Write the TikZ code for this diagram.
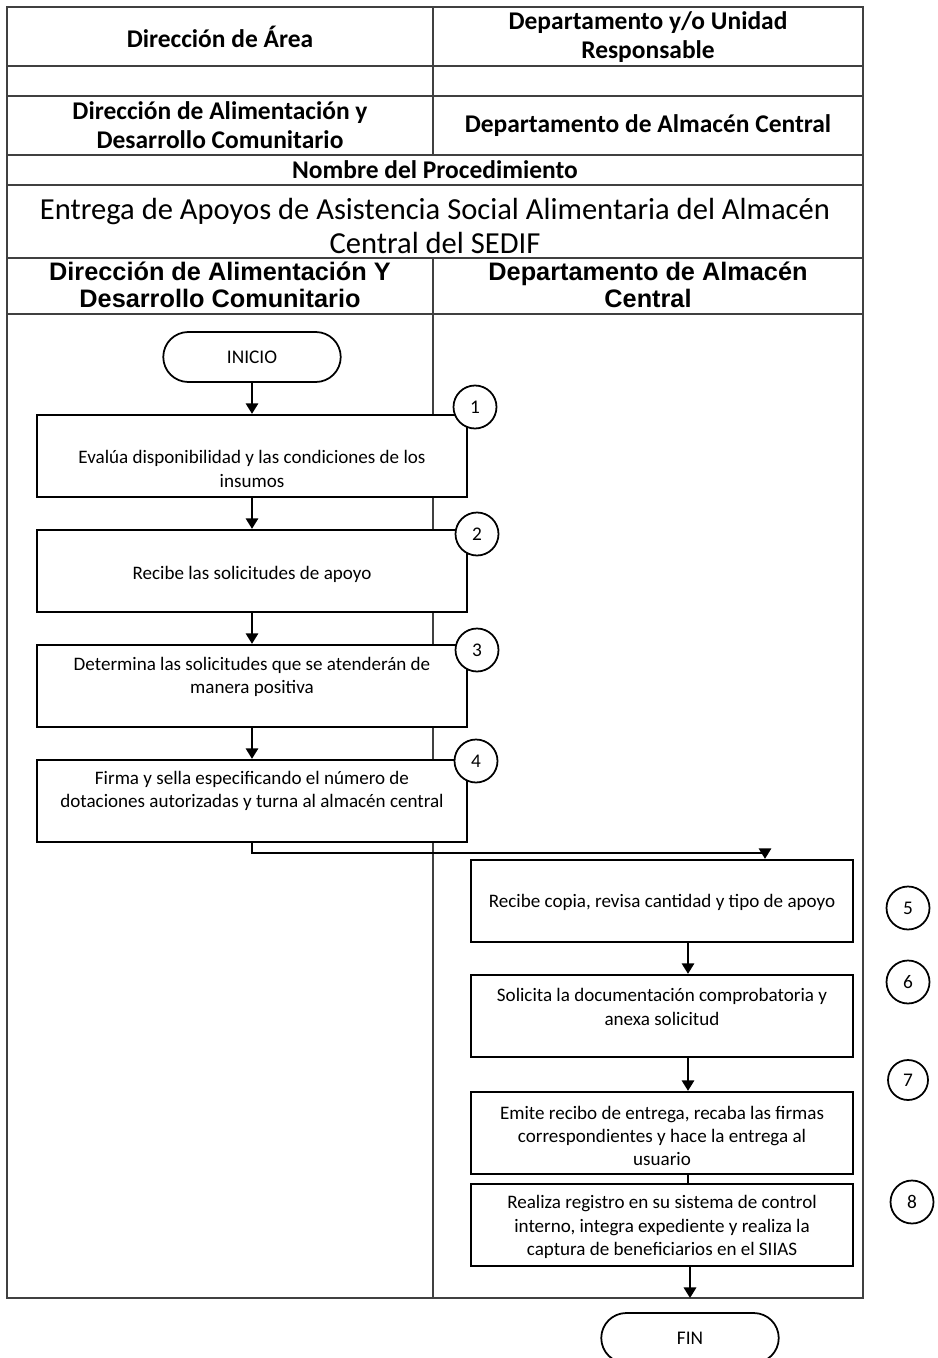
\documentclass[tikz,border=0pt]{standalone}
\usepackage{fontspec}
\setmainfont{Carlito}
\newfontfamily\lanefont{Liberation Sans}
\usetikzlibrary{arrows.meta}

\begin{document}
\begin{tikzpicture}[x=0.02cm,y=-0.02cm,
            grid/.style = {draw=black!75, line width=0.9pt},
            head/.style = {align=center, font=\bfseries\fontsize{14.5}{16.5}\selectfont},
            lane/.style = {align=center, font=\lanefont\bfseries\fontsize{14.4}{15.6}\selectfont},
            box/.style = {draw, line width=1.3pt, fill=white, minimum height=1.64cm},
            txt/.style = {align=center, font=\fontsize{10.85}{13.3}\selectfont},
            num/.style = {circle, draw, line width=1pt, fill=white, minimum size=0.86cm,
                        inner sep=0pt, font=\fontsize{11}{12}\selectfont},
            term/.style = {draw, line width=1pt, rounded corners=0.5cm, minimum width=3.55cm,
                        minimum height=1cm, font=\fontsize{11}{12}\selectfont},
            arr/.style = {line width=1.3pt, -{Triangle[width=7pt,length=6pt]}}]
            \clip (0,0) rectangle (937,1358);
            \useasboundingbox (0,0) rectangle (937,1358);
            % Table frame
            \draw [grid] (7,7) rectangle (863,1298);
            \draw [grid] (7,66) -- (863,66);
            \draw [grid] (7,96) -- (863,96);
            \draw [grid] (7,155) -- (863,155);
            \draw [grid] (7,185) -- (863,185);
            \draw [grid] (7,258) -- (863,258);
            \draw [grid] (7,314) -- (863,314);
            \draw [grid] (433,7) -- (433,155);
            \draw [grid] (433,258) -- (433,1298);
            % Header texts
            \node[head] (h1) at (220,37) {Dirección de Área};
            \node[head] (h2) at (648,37) {Departamento y/o Unidad\\Responsable};
            \node[head] (h3) at (220,125) {Dirección de Alimentación y\\Desarrollo Comunitario};
            \node[head] (h4) at (648,126) {Departamento de Almacén Central};
            \node[head] (h5) at (435,170) {Nombre del Procedimiento};
            \node[align=center, font=\fontsize{17.4}{19.6}\selectfont] (title) at (435,226)
                {Entrega de Apoyos de Asistencia Social Alimentaria del Almacén\\Central del SEDIF};
            % Lane headers
            \node[lane] (l1) at (220,285) {Dirección de Alimentación Y\\Desarrollo Comunitario};
            \node[lane] (l2) at (648,285) {Departamento de Almacén\\Central};
            % Start
            \node[term] (inicio) at (252,357) {INICIO};
            % Steps of the first lane
            \node[box, minimum width=8.6cm] (b1) at (252,456) {};
            \node[txt] (t1) at (252,469) {Evalúa disponibilidad y las condiciones de los\\insumos};
            \node[box, minimum width=8.6cm] (b2) at (252,571) {};
            \node[txt] (t2) at (252,574) {Recibe las solicitudes de apoyo};
            \node[box, minimum width=8.6cm] (b3) at (252,686) {};
            \node[txt] (t3) at (252,677) {Determina las solicitudes que se atenderán de\\manera positiva};
            \node[box, minimum width=8.6cm] (b4) at (252,801) {};
            \node[txt] (t4) at (252,791) {Firma y sella especificando el número de\\dotaciones autorizadas y turna al almacén central};
            % Steps of the second lane
            \node[box, minimum width=7.64cm] (b5) at (662,901) {};
            \node[txt] (t5) at (662,902) {Recibe copia, revisa cantidad y tipo de apoyo};
            \node[box, minimum width=7.64cm] (b6) at (662,1016) {};
            \node[txt] (t6) at (662,1007) {Solicita la documentación comprobatoria y\\anexa solicitud};
            \node[box, minimum width=7.64cm] (b7) at (662,1133) {};
            \node[txt] (t7) at (662,1136) {Emite recibo de entrega, recaba las firmas\\correspondientes y hace la entrega al\\usuario};
            \node[box, minimum width=7.64cm] (b8) at (662,1225) {};
            \node[txt] (t8) at (662,1227) {Realiza registro en su sistema de control\\interno, integra expediente y realiza la\\captura de beneficiarios en el SIIAS};
            % End
            \node[term] (fin) at (690,1338) {FIN};
            % Step numbers
            \node[num] (n1) at (475,407) {1};
            \node[num] (n2) at (477,534) {2};
            \node[num] (n3) at (477,650) {3};
            \node[num] (n4) at (476,761) {4};
            \node[num] (n5) at (908,908) {5};
            \node[num] (n6) at (908,982) {6};
            \node[num, minimum size=0.8cm] (n7) at (908,1080) {7};
            \node[num] (n8) at (912,1202) {8};
            % Connectors
            \draw[arr] (inicio.south) -- (b1.north);
            \draw[arr] (b1.south) -- (b2.north);
            \draw[arr] (b2.south) -- (b3.north);
            \draw[arr] (b3.south) -- (b4.north);
            \coordinate (k4) at (765,853);
            \draw[line width=1.3pt] (b4.south) |- (k4);
            \draw[arr] (k4) -- (k4 |- b5.north);
            \coordinate (k5) at (688,0);
            \draw[arr] (k5 |- b5.south) -- (k5 |- b6.north);
            \draw[arr] (k5 |- b6.south) -- (k5 |- b7.north);
            \draw[line width=1.3pt] (k5 |- b7.south) -- (k5 |- b8.north);
            \coordinate (k8) at (690,1298);
            \draw[arr] (k8 |- b8.south) -- (k8);
        \end{tikzpicture}
\end{document}
